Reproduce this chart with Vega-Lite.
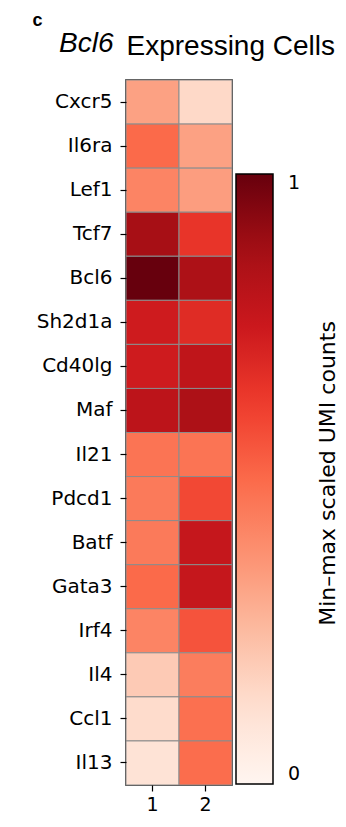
{
  "$schema": "https://vega.github.io/schema/vega-lite/v6.json",
  "autosize": {"type": "none"},
  "width": 106,
  "height": 705,
  "padding": {"left": 126, "top": 80, "right": 114, "bottom": 42},
  "background": "white",
  "title": {"text": "Bcl6", "fontStyle": "italic", "font": "Liberation Sans", "fontSize": 28, "fontWeight": "normal", "anchor": "start", "frame": "group", "dx": -67, "dy": 47, "offset": 0, "color": "black"},
  "data": {"values": [
    {"gene": "Cxcr5", "col": "1", "value": 0.33}, {"gene": "Cxcr5", "col": "2", "value": 0.15},
    {"gene": "Il6ra", "col": "1", "value": 0.5}, {"gene": "Il6ra", "col": "2", "value": 0.33},
    {"gene": "Lef1", "col": "1", "value": 0.42}, {"gene": "Lef1", "col": "2", "value": 0.34},
    {"gene": "Tcf7", "col": "1", "value": 0.87}, {"gene": "Tcf7", "col": "2", "value": 0.65},
    {"gene": "Bcl6", "col": "1", "value": 1.0}, {"gene": "Bcl6", "col": "2", "value": 0.85},
    {"gene": "Sh2d1a", "col": "1", "value": 0.74}, {"gene": "Sh2d1a", "col": "2", "value": 0.68},
    {"gene": "Cd40lg", "col": "1", "value": 0.74}, {"gene": "Cd40lg", "col": "2", "value": 0.79},
    {"gene": "Maf", "col": "1", "value": 0.8}, {"gene": "Maf", "col": "2", "value": 0.85},
    {"gene": "Il21", "col": "1", "value": 0.47}, {"gene": "Il21", "col": "2", "value": 0.47},
    {"gene": "Pdcd1", "col": "1", "value": 0.45}, {"gene": "Pdcd1", "col": "2", "value": 0.59},
    {"gene": "Batf", "col": "1", "value": 0.45}, {"gene": "Batf", "col": "2", "value": 0.77},
    {"gene": "Gata3", "col": "1", "value": 0.5}, {"gene": "Gata3", "col": "2", "value": 0.77},
    {"gene": "Irf4", "col": "1", "value": 0.42}, {"gene": "Irf4", "col": "2", "value": 0.56},
    {"gene": "Il4", "col": "1", "value": 0.2}, {"gene": "Il4", "col": "2", "value": 0.44},
    {"gene": "Ccl1", "col": "1", "value": 0.14}, {"gene": "Ccl1", "col": "2", "value": 0.48},
    {"gene": "Il13", "col": "1", "value": 0.11}, {"gene": "Il13", "col": "2", "value": 0.49}
  ]},
  "encoding": {
    "x": {"field": "col", "type": "ordinal", "scale": {"paddingInner": 0, "paddingOuter": 0},
      "axis": {"labelAngle": 0, "labelFont": "DejaVu Sans", "labelFontSize": 19, "labelColor": "black", "tickColor": "black", "tickSize": 6, "tickWidth": 1.2, "labelPadding": 4, "domain": false,
        "title": "Expressing Cells", "titleX": 0, "titleY": -731, "titleAlign": "left", "titleBaseline": "alphabetic", "titleFont": "Liberation Sans", "titleFontSize": 28, "titleFontWeight": "normal", "titleColor": "black"}}
  },
  "layer": [
    {
      "mark": {"type": "rect", "stroke": "#8c8c8c", "strokeWidth": 1},
      "encoding": {
        "y": {"field": "gene", "type": "nominal", "sort": ["Cxcr5", "Il6ra", "Lef1", "Tcf7", "Bcl6", "Sh2d1a", "Cd40lg", "Maf", "Il21", "Pdcd1", "Batf", "Gata3", "Irf4", "Il4", "Ccl1", "Il13"], "scale": {"paddingInner": 0, "paddingOuter": 0},
          "axis": {"labelFont": "DejaVu Sans", "labelFontSize": 20, "labelColor": "black", "tickColor": "black", "tickSize": 6, "tickWidth": 1.2, "labelPadding": 8, "domain": false,
            "title": "c", "titleAngle": 0, "titleX": -89, "titleY": -55, "titleAlign": "center", "titleBaseline": "alphabetic", "titleFont": "Liberation Sans", "titleFontSize": 18, "titleFontWeight": "bold", "titleColor": "black"}},
        "color": {"field": "value", "type": "quantitative",
          "scale": {"domain": [0, 0.125, 0.25, 0.375, 0.5, 0.625, 0.75, 0.875, 1], "range": ["#fff5f0", "#fee0d2", "#fcbba1", "#fc9272", "#fb6a4a", "#ef3b2c", "#cb181d", "#a50f15", "#67000d"], "interpolate": "rgb"},
          "legend": {"orient": "none", "legendX": 110, "legendY": 94, "direction": "vertical", "gradientLength": 610, "gradientThickness": 37, "gradientStrokeColor": "black", "gradientStrokeWidth": 1.5, "values": [0, 1], "format": "d", "labelFont": "DejaVu Sans", "labelFontSize": 19, "labelColor": "black", "labelOffset": 15, "labelBaseline": "middle", "title": null}}
      }
    },
    {
      "mark": {"type": "rect", "opacity": 0},
      "encoding": {
        "y": {"field": "gene", "type": "nominal", "sort": ["Cxcr5", "Il6ra", "Lef1", "Tcf7", "Bcl6", "Sh2d1a", "Cd40lg", "Maf", "Il21", "Pdcd1", "Batf", "Gata3", "Irf4", "Il4", "Ccl1", "Il13"],
          "axis": {"orient": "right", "labels": false, "ticks": false, "domain": false, "grid": false,
            "title": "Min–max scaled UMI counts", "titleAngle": 270, "titleX": 95, "titleY": 393, "titleAlign": "center", "titleBaseline": "middle", "titleFont": "DejaVu Sans", "titleFontSize": 22, "titleFontWeight": "normal", "titleColor": "black", "titleLimit": 800}}
      }
    }
  ],
  "resolve": {"scale": {"y": "independent"}, "axis": {"y": "independent"}},
  "config": {"view": {"stroke": "black", "strokeWidth": 1.5}}
}
